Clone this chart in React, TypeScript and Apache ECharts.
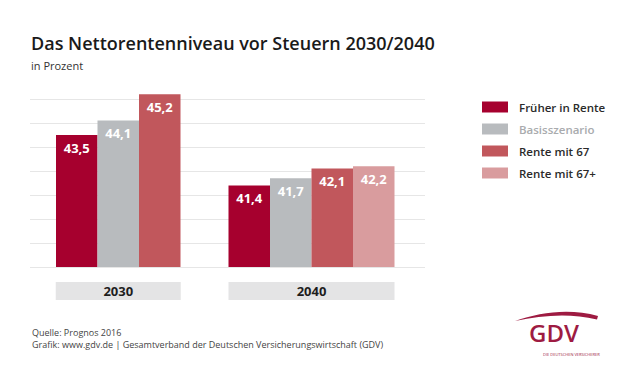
import React, { useEffect, useRef } from "react";
import * as echarts from "echarts";

const categories = ["2030", "2040"];
const seriesNames = ["Früher in Rente", "Basisszenario", "Rente mit 67", "Rente mit 67+"];
const frueher = [43.5, 41.4];
const basis = [44.1, 41.7];
const rente67 = [45.2, 42.1];
const rente67plus = [null, 42.2];
const colors = ["#a6002e", "#b8bbbe", "#c1575c", "#d99c9e"];
const legendTextColors = ["#2a2a2a", "#a9abae", "#2a2a2a", "#2a2a2a"];
const title = "Das Nettorentenniveau vor Steuern 2030/2040";
const subtitle = "in Prozent";
const source = "Quelle: Prognos 2016";
const credit = "Grafik: www.gdv.de | Gesamtverband der Deutschen Versicherungswirtschaft (GDV)";

const FONT = "'Open Sans', sans-serif";

echarts.graphic.registerShape(
  "swoosh",
  echarts.graphic.extendPath("M0 10 C25 1 55 -3 83 5 L82 8.5 C55 2 28 4 0 10 Z", {}) as any
);

export default function App() {
  const ref = useRef<HTMLDivElement>(null);
  useEffect(() => {
    if (!ref.current) return;
    const chart = echarts.init(ref.current, undefined, { renderer: "svg" });
    const data = [frueher, basis, rente67, rente67plus];
    const fmt = (v: number) => v.toFixed(1).replace(".", ",");
    chart.setOption({
      animation: false,
      backgroundColor: "#ffffff",
      textStyle: { fontFamily: FONT },
      grid: [
        { left: 30, width: 395, top: 87, bottom: 116 },
        { left: 52.75, width: 345, top: 87, bottom: 116 },
      ],
      xAxis: [
        { gridIndex: 0, type: "value", min: 0, max: 1, show: false },
        {
          gridIndex: 1,
          type: "category",
          data: categories,
          axisLine: { show: false },
          axisTick: { show: false },
          axisLabel: {
            margin: 15,
            formatter: (v: string, i: number) => (i === 0 ? `{a|${v}}{gap|}` : `{b|${v}}`),
            rich: {
              a: {
                width: 125,
                height: 18,
                align: "center",
                backgroundColor: "#e4e4e5",
                fontFamily: FONT,
                fontWeight: "bold",
                fontSize: 13,
                color: "#1e1e1e",
              },
              gap: { width: 41.5, height: 18 },
              b: {
                width: 166,
                height: 18,
                align: "center",
                backgroundColor: "#e4e4e5",
                fontFamily: FONT,
                fontWeight: "bold",
                fontSize: 13,
                color: "#1e1e1e",
              },
            },
          },
        },
      ],
      yAxis: [
        {
          gridIndex: 0,
          type: "value",
          min: 38,
          max: 45.5,
          interval: 1,
          axisLine: { show: false },
          axisTick: { show: false },
          axisLabel: { show: false },
          splitLine: { show: true, showMaxLine: false, lineStyle: { color: "#e6e6e6", width: 1 } },
        },
        {
          gridIndex: 1,
          type: "value",
          min: 38,
          max: 45.5,
          interval: 1,
          show: false,
          splitLine: { show: false },
        },
      ],
      legend: {
        orient: "vertical",
        left: 477,
        top: 96,
        itemWidth: 26,
        itemHeight: 11,
        itemGap: 10,
        icon: "rect",
        textStyle: { fontFamily: FONT, fontSize: 11.5, fontWeight: 600, padding: [0, 0, 0, 6] },
        data: seriesNames.map((n, i) => ({ name: n, textStyle: { color: legendTextColors[i] } })),
      },
      series: seriesNames.map((name, i) => ({
        name,
        type: "bar",
        xAxisIndex: 1,
        yAxisIndex: 1,
        data: data[i],
        barWidth: 41.5,
        barGap: "0%",
        itemStyle: { color: colors[i] },
        label: {
          show: true,
          position: "insideTop",
          distance: 6,
          color: "#ffffff",
          fontFamily: FONT,
          fontWeight: "bold",
          fontSize: 13,
          formatter: (p: any) => fmt(p.value),
        },
      })),
      graphic: [
        {
          type: "text",
          left: 31,
          top: 34,
          style: { text: title, font: `600 18px ${FONT}`, fill: "#1a1a1a" },
        },
        {
          type: "text",
          left: 31,
          top: 60,
          style: { text: subtitle, font: `11px ${FONT}`, fill: "#333333" },
        },
        {
          type: "text",
          left: 32,
          top: 328,
          style: { text: source, font: `9px ${FONT}`, fill: "#444444" },
        },
        {
          type: "text",
          left: 32,
          top: 340,
          style: { text: credit, font: `9px ${FONT}`, fill: "#444444" },
        },
        {
          type: "swoosh",
          x: 515,
          y: 311,
          style: { fill: "#9e1b42" },
        },
        {
          type: "text",
          left: 529,
          top: 320,
          style: { text: "GDV", font: `600 24px ${FONT}`, lineHeight: 25, fill: "#9e1b42" },
        },
        {
          type: "text",
          left: 543,
          top: 352,
          style: { text: "DIE DEUTSCHEN VERSICHERER", font: `4px ${FONT}`, lineHeight: 5, fill: "#9e1b42" },
        },
      ],
    });
    return () => chart.dispose();
  }, []);
  return <div ref={ref} style={{ width: 621, height: 383, position: "absolute", left: 0, top: 0 }} />;
}
